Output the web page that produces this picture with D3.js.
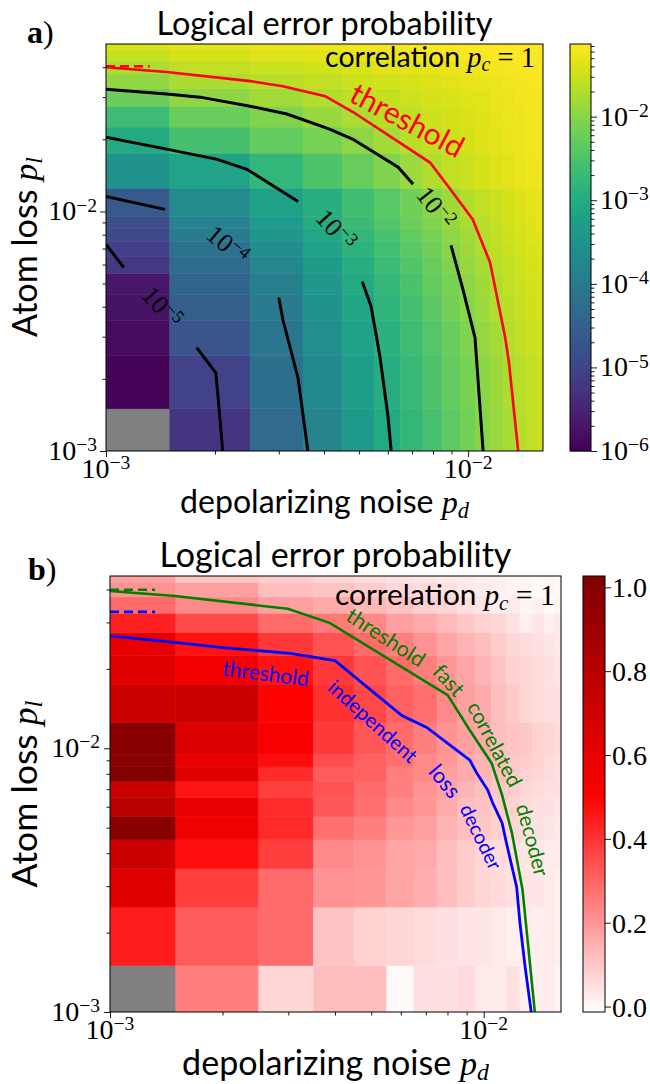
<!DOCTYPE html>
<html>
<head>
<meta charset="utf-8">
<style>
  body { margin: 0; background: #fff; }
  .sans { font-family: Lato, "Open Sans", sans-serif; }
  .serif { font-family: "Liberation Serif", "DejaVu Serif", serif; }
  .tick line { stroke: #000; stroke-width: 0.9px; }
</style>
</head>
<body>
<script src="https://cdn.jsdelivr.net/npm/d3@7"></script>
<script>

  // grid points, in units of 1e-3
  const pd = [1, 2, 3, 4, 5, 6, 7, 8, 9, 10, 11, 12, 13, 14, 15, 16]
  const plA = [1, 2, 3, 4, 5, 6, 7, 8, 9, 10, 15, 20, 25, 30, 35, 40, 45, 50]
  const plB = [1, 2, 3, 4, 5, 6, 7, 8, 9, 10, 15, 20, 25, 30, 35, 40, 45]

  // a) log10 of logical error probability, rows from pl=1 upwards, null = no data
  const logErrA = [
    [null, -5.25, -4.34, -3.81, -3.38, -3.04, -2.77, -2.54, -2.34, -2.16, -2.00, -1.88, -1.77, -1.68, -1.60, -1.53],
    [-5.95, -5.03, -4.23, -3.70, -3.30, -2.97, -2.72, -2.50, -2.30, -2.13, -1.97, -1.85, -1.73, -1.65, -1.57, -1.50],
    [-5.86, -4.74, -4.08, -3.58, -3.20, -2.89, -2.64, -2.43, -2.24, -2.07, -1.92, -1.78, -1.68, -1.60, -1.53, -1.47],
    [-5.76, -4.56, -4.02, -3.52, -3.13, -2.83, -2.58, -2.36, -2.17, -2.00, -1.86, -1.72, -1.63, -1.55, -1.49, -1.43],
    [-5.70, -4.43, -3.91, -3.43, -3.05, -2.76, -2.52, -2.31, -2.12, -1.96, -1.82, -1.69, -1.60, -1.52, -1.46, -1.41],
    [-5.22, -4.31, -3.77, -3.32, -2.97, -2.69, -2.45, -2.24, -2.06, -1.91, -1.77, -1.65, -1.57, -1.50, -1.44, -1.39],
    [-5.07, -4.17, -3.62, -3.20, -2.88, -2.61, -2.38, -2.18, -2.00, -1.85, -1.72, -1.62, -1.54, -1.47, -1.41, -1.36],
    [-4.95, -4.00, -3.47, -3.09, -2.78, -2.52, -2.30, -2.12, -1.95, -1.81, -1.68, -1.59, -1.51, -1.45, -1.39, -1.34],
    [-4.85, -3.84, -3.35, -3.00, -2.69, -2.44, -2.23, -2.05, -1.89, -1.75, -1.64, -1.56, -1.48, -1.42, -1.37, -1.32],
    [-4.65, -3.69, -3.26, -2.93, -2.63, -2.39, -2.18, -2.00, -1.84, -1.70, -1.60, -1.52, -1.45, -1.39, -1.34, -1.30],
    [-3.50, -3.18, -2.79, -2.49, -2.26, -2.07, -1.87, -1.70, -1.60, -1.52, -1.45, -1.39, -1.34, -1.30, -1.26, -1.23],
    [-3.05, -2.56, -2.30, -2.12, -1.96, -1.78, -1.66, -1.58, -1.50, -1.44, -1.39, -1.34, -1.30, -1.27, -1.24, -1.21],
    [-2.65, -2.24, -2.05, -1.88, -1.74, -1.64, -1.57, -1.50, -1.45, -1.40, -1.36, -1.32, -1.28, -1.25, -1.22, -1.20],
    [-2.22, -1.95, -1.81, -1.70, -1.62, -1.55, -1.50, -1.45, -1.41, -1.37, -1.34, -1.30, -1.27, -1.24, -1.21, -1.19],
    [-1.93, -1.75, -1.65, -1.57, -1.51, -1.46, -1.42, -1.38, -1.35, -1.32, -1.29, -1.27, -1.24, -1.22, -1.20, -1.18],
    [-1.75, -1.60, -1.52, -1.46, -1.41, -1.37, -1.34, -1.31, -1.29, -1.26, -1.24, -1.22, -1.20, -1.18, -1.17, -1.15],
    [-1.55, -1.45, -1.39, -1.34, -1.30, -1.27, -1.24, -1.22, -1.20, -1.18, -1.17, -1.16, -1.15, -1.14, -1.13, -1.13],
    [-1.42, -1.33, -1.28, -1.24, -1.21, -1.19, -1.17, -1.16, -1.15, -1.14, -1.14, -1.13, -1.13, -1.13, -1.13, -1.13]
  ]

  // b) logical error probability (linear), rows from pl=1 upwards
  const errB = [
    [null, 0.25, 0.07, 0.12, 0.12, 0.00, 0.05, 0.05, 0.06, 0.03, 0.03, 0.05, 0.02, 0.02, 0.03, 0.01],
    [0.45, 0.32, 0.29, 0.11, 0.08, 0.07, 0.06, 0.05, 0.04, 0.04, 0.03, 0.02, 0.03, 0.02, 0.03, 0.02],
    [0.63, 0.38, 0.29, 0.21, 0.20, 0.17, 0.15, 0.12, 0.09, 0.07, 0.06, 0.05, 0.04, 0.04, 0.03, 0.02],
    [0.71, 0.48, 0.38, 0.23, 0.21, 0.17, 0.16, 0.12, 0.09, 0.07, 0.06, 0.05, 0.04, 0.04, 0.03, 0.03],
    [0.99, 0.57, 0.42, 0.28, 0.25, 0.20, 0.18, 0.14, 0.12, 0.10, 0.08, 0.07, 0.05, 0.05, 0.04, 0.03],
    [0.80, 0.60, 0.42, 0.33, 0.28, 0.23, 0.20, 0.16, 0.12, 0.11, 0.09, 0.08, 0.06, 0.05, 0.05, 0.04],
    [0.73, 0.47, 0.38, 0.34, 0.29, 0.25, 0.21, 0.18, 0.14, 0.12, 0.10, 0.09, 0.07, 0.06, 0.05, 0.05],
    [1.02, 0.63, 0.42, 0.32, 0.31, 0.25, 0.23, 0.18, 0.16, 0.14, 0.12, 0.10, 0.08, 0.07, 0.06, 0.05],
    [0.98, 0.60, 0.48, 0.35, 0.31, 0.28, 0.23, 0.20, 0.16, 0.14, 0.12, 0.10, 0.09, 0.08, 0.06, 0.05],
    [1.00, 0.65, 0.53, 0.39, 0.33, 0.29, 0.25, 0.21, 0.18, 0.16, 0.12, 0.11, 0.10, 0.08, 0.07, 0.06],
    [0.71, 0.71, 0.50, 0.41, 0.36, 0.31, 0.28, 0.23, 0.18, 0.16, 0.12, 0.10, 0.07, 0.06, 0.05, 0.05],
    [0.63, 0.56, 0.47, 0.39, 0.34, 0.29, 0.25, 0.20, 0.17, 0.14, 0.11, 0.08, 0.07, 0.06, 0.05, 0.04],
    [0.60, 0.47, 0.39, 0.34, 0.29, 0.25, 0.21, 0.17, 0.14, 0.12, 0.09, 0.07, 0.06, 0.05, 0.04, 0.03],
    [0.44, 0.36, 0.29, 0.26, 0.23, 0.18, 0.16, 0.13, 0.10, 0.08, 0.07, 0.05, 0.02, 0.04, 0.02, 0.03],
    [0.29, 0.23, 0.18, 0.16, 0.13, 0.11, 0.08, 0.07, 0.05, 0.04, 0.02, 0.03, 0.01, 0.02, 0.00, 0.01],
    [0.21, 0.18, 0.12, 0.11, 0.09, 0.07, 0.06, 0.05, 0.03, 0.03, 0.02, 0.01, 0.01, 0.00, 0.01, 0.00],
    [0.18, 0.11, 0.09, 0.07, 0.06, 0.05, 0.04, 0.03, 0.03, 0.02, 0.02, 0.01, 0.01, 0.00, 0.01, 0.00]
  ]

  // contour lines of a), [pd, pl] in 1e-3, split where the inline label sits
  const contour2 = [[[1.0, 32.4], [1.47, 30.9], [1.82, 30.0], [2.5, 27.5], [3.16, 25.5], [4.16, 22.0], [4.81, 20.0], [6.41, 15.3], [7.05, 13.0]],
                    [[8.97, 7.21], [9.68, 4.72], [10.45, 2.97], [11.0, 1.0]]]
  const contour3 = [[[1.0, 20.4], [1.47, 18.2], [2.03, 16.5], [2.45, 15.0], [3.39, 11.0]],
                    [[5.10, 5.10], [5.40, 4.0], [5.71, 2.47], [6.01, 1.39], [6.13, 1.0]]]
  const contour4 = [[[1.0, 11.55], [1.455, 10.2]],
                    [[3.0, 4.37], [3.08, 3.53], [3.39, 2.02], [3.61, 1.0]]]
  const contour5 = [[[1.0, 7.28], [1.12, 5.83]],
                    [[1.78, 2.70], [2.01, 2.12], [2.04, 1.68], [2.10, 1.0]]]
  const contourLabels = [
    {exp: 2, pd: 8.16, pl: 10.4, angle: 52},
    {exp: 3, pd: 4.32, pl: 8.41, angle: 48},
    {exp: 4, pd: 2.17, pl: 7.28, angle: 40},
    {exp: 5, pd: 1.43, pl: 4.0, angle: 48}
  ]

  // thresholds
  const thresholdA = [[1.0, 40.0], [1.47, 38.2], [2.5, 35.0], [3.08, 33.3], [4.03, 30.3], [4.81, 26.0], [7.85, 16.0],
                      [8.92, 12.4], [10.3, 9.26], [11.5, 6.12], [12.65, 3.0], [12.97, 2.33], [13.75, 1.0]]
  const thresholdA0 = [[1.0, 40.4], [1.32, 40.4]]
  const thresholdFast = [[1.0, 39.5], [1.49, 37.8], [2.99, 33.8], [3.87, 29.9], [8.01, 15.9], [9.18, 11.7], [10.5, 8.78],
                         [11.2, 6.64], [11.9, 4.77], [12.7, 2.91], [13.1, 1.88], [13.7, 1.0]]
  const thresholdFast0 = [[1.0, 39.9], [1.32, 39.9]]
  const thresholdIndep = [[1.0, 26.7], [1.49, 25.2], [2.0, 24.1], [3.03, 22.9], [4.0, 21.5], [6.04, 13.3], [7.04, 12.0],
                          [9.18, 9.01], [9.58, 8.05], [10.25, 6.94], [10.57, 6.2], [11.2, 5.21], [11.5, 4.38],
                          [12.25, 2.98], [12.5, 2.18], [12.9, 1.49], [13.4, 1.0]]
  const thresholdIndep0 = [[1.0, 32.9], [1.32, 32.9]]

  const colorbarTicksB = [0.0, 0.2, 0.4, 0.6, 0.8, 1.0]
  const colorbarExpA = [2, 3, 4, 5, 6]

  const tickFont = 28

  const svg = d3.select('body').append('svg')
      .attr('width', 650)
      .attr('height', 1084)

  // ---------- scales ----------
  const xA = d3.scaleLog().domain([1, 16.1]).range([106, 543])
  const yA = d3.scaleLog().domain([1, 50]).range([451, 44])
  const xB = d3.scaleLog().domain([1, 16.1]).range([110, 561])
  const yB = d3.scaleLog().domain([1, 45]).range([1012, 576])

  const colorA = d3.scaleSequentialLog(d3.interpolateViridis).domain([1e-6, 0.074])
  const cbA = d3.scaleLog().domain([1e-6, 0.074]).range([451, 44])
  const colorB = d3.scaleLinear().domain([-0.013, 0.507, 1.027]).range(['#ffffff', '#ff0000', '#800000'])
  const cbB = d3.scaleLinear().domain([-0.013, 1.027]).range([1012, 576])

  function cellEdges(vals, lo, hi) {
    const e = [lo]
    for (let i = 1; i < vals.length; i++) e.push((vals[i-1] + vals[i]) / 2)
    e.push(hi)
    return e
  }

  function drawHeat(g, x, y, grid, ys, fill) {
    const xe = cellEdges(pd, ...x.domain())
    const ye = cellEdges(ys, ...y.domain())
    const cells = []
    grid.forEach((row, i) => row.forEach((v, j) => cells.push({i, j, v})))
    g.selectAll('rect.cell')
      .data(cells)
      .join('rect')
        .attr('class', 'cell')
        .attr('x', d => x(xe[d.j]))
        .attr('y', d => y(ye[d.i+1]))
        .attr('width', d => x(xe[d.j+1]) - x(xe[d.j]))
        .attr('height', d => y(ye[d.i]) - y(ye[d.i+1]))
        .style('fill', d => d.v == null ? '#808080' : fill(d.v))
        .style('stroke', d => d.v == null ? '#808080' : fill(d.v))
        .style('stroke-width', 0.5)
  }

  function fit(t, len) {
    const fs = parseFloat(t.style('font-size'))
    const w = t.node().getComputedTextLength()
    t.style('font-size', (fs * len / w) + 'px')
    return t
  }

  function powLabel(g, x, y, exp, anchor, size) {
    const t = g.append('text')
        .attr('class', 'serif')
        .attr('x', x)
        .attr('y', y)
        .attr('text-anchor', anchor)
        .style('font-size', size + 'px')
    t.append('tspan').text('10')
    t.append('tspan').attr('dy', '-0.45em').style('font-size', '0.7em').text('\u2212' + exp)
    return t
  }

  function mathText(t, sym, sub) {
    t.append('tspan').attr('class', 'serif').style('font-style', 'italic').text(sym)
    t.append('tspan').attr('class', 'serif').style('font-style', 'italic')
      .style('font-size', '0.7em').attr('dy', '0.22em').text(sub)
  }

  function drawAxes(x, y, axisGap) {
    const [x0, x1] = x.range(), [y1, y0] = y.range()
    const g = svg.append('g')

    // ticks
    const minorX = [2, 3, 4, 5, 6, 7, 8, 9]
    const minorY = [2, 3, 4, 5, 6, 7, 8, 9, 20, 30, 40]
    g.append('g').attr('transform', `translate(0, ${y1})`)
      .call(d3.axisBottom(x).tickValues(minorX).tickSize(3.5).tickFormat(''))
    g.append('g').attr('transform', `translate(0, ${y1})`)
      .call(d3.axisBottom(x).tickValues([1, 10]).tickSize(6).tickFormat(''))
    g.append('g').attr('transform', `translate(${x0}, 0)`)
      .call(d3.axisLeft(y).tickValues(minorY).tickSize(3.5).tickFormat(''))
    g.append('g').attr('transform', `translate(${x0}, 0)`)
      .call(d3.axisLeft(y).tickValues([1, 10]).tickSize(6).tickFormat(''))
    g.selectAll('.domain').remove()

    g.append('rect')
        .attr('x', x0).attr('y', y0)
        .attr('width', x1 - x0).attr('height', y1 - y0)
        .style('fill', 'none').style('stroke', '#000').style('stroke-width', 1)

    // tick labels
    powLabel(g, x(1), y1 + 27, 3, 'middle', tickFont)
    powLabel(g, x(10), y1 + 27, 2, 'middle', tickFont)
    powLabel(g, x0 - axisGap, y(1) + 9, 3, 'end', tickFont)
    powLabel(g, x0 - axisGap, y(10) + 9, 2, 'end', tickFont)
    return g
  }

  // ================= panel a =================
  const gA = svg.append('g')
  svg.append('clipPath').attr('id', 'clipA').append('rect')
      .attr('x', 106).attr('y', 44).attr('width', 437).attr('height', 407)
  const plotA = gA.append('g').attr('clip-path', 'url(#clipA)')
  drawHeat(plotA, xA, yA, logErrA, plA, v => colorA(Math.pow(10, v)))

  const lineA = d3.line().x(d => xA(d[0])).y(d => yA(d[1]))
  ;[contour2, contour3, contour4, contour5].forEach(c => c.forEach(seg => {
    plotA.append('path').attr('d', lineA(seg))
      .style('fill', 'none').style('stroke', '#000').style('stroke-width', 3)
  }))
  plotA.append('path').attr('d', lineA(thresholdA))
      .style('fill', 'none').style('stroke', '#ff0000').style('stroke-width', 2.6)
  plotA.append('path').attr('d', lineA(thresholdA0))
      .style('fill', 'none').style('stroke', '#ff0000').style('stroke-width', 2.6)
      .style('stroke-dasharray', '9,5')

  contourLabels.forEach(d => {
    const t = powLabel(plotA, 0, 0, d.exp, 'middle', 26)
    t.attr('x', null).attr('y', null)
      .attr('dy', '0.35em')
      .attr('transform', `translate(${xA(d.pd)}, ${yA(d.pl)}) rotate(${d.angle})`)
  })

  const thrA = gA.append('text').attr('class', 'sans')
      .attr('text-anchor', 'middle').attr('dy', '0.35em')
      .attr('transform', `translate(${xA(6.79)}, ${yA(24.0)}) rotate(28)`)
      .style('font-size', '24px').style('fill', '#ff0000')
      .text('threshold')
  fit(thrA, 124)

  drawAxes(xA, yA, 9)

  // colorbar a
  const cbgA = svg.append('g')
  const stripsA = d3.range(451, 44, -1)
  cbgA.selectAll('rect').data(stripsA).join('rect')
      .attr('x', 570).attr('y', d => d - 1).attr('width', 21).attr('height', 1.4)
      .style('fill', d => colorA(cbA.invert(d - 0.5)))
  const minorCbA = []
  for (let e = -6; e <= -2; e++) for (let k = 2; k <= 9; k++) if (k * Math.pow(10, e) < 0.074) minorCbA.push(k * Math.pow(10, e))
  cbgA.append('g').attr('transform', 'translate(591, 0)')
      .call(d3.axisRight(cbA).tickValues(minorCbA).tickSize(3.5).tickFormat(''))
  cbgA.append('g').attr('transform', 'translate(591, 0)')
      .call(d3.axisRight(cbA).tickValues(colorbarExpA.map(e => Math.pow(10, -e))).tickSize(6).tickFormat(''))
  cbgA.selectAll('.domain').remove()
  cbgA.append('rect').attr('x', 570).attr('y', 44).attr('width', 21).attr('height', 407)
      .style('fill', 'none').style('stroke', '#000').style('stroke-width', 1)
  colorbarExpA.forEach(e => powLabel(cbgA, 600, cbA(Math.pow(10, -e)) + 9, e, 'start', tickFont))

  // texts a
  const titleA = svg.append('text').attr('class', 'sans')
      .attr('x', 324.5).attr('y', 35).attr('text-anchor', 'middle')
      .style('font-size', '30px').text('Logical error probability')
  fit(titleA, 336)

  const tagA = svg.append('text').attr('class', 'serif').attr('x', 27).attr('y', 43).style('font-size', '32px')
  tagA.append('tspan').style('font-weight', 'bold').text('a')
  tagA.append('tspan').text(')')

  const corrA = svg.append('text').attr('class', 'sans')
      .attr('x', 535).attr('y', 67).attr('text-anchor', 'end').style('font-size', '24px')
  corrA.append('tspan').text('correlation ')
  mathText(corrA, 'p', 'c')
  corrA.append('tspan').attr('class', 'serif').attr('dy', '-0.154em').text(' = 1')
  fit(corrA, 210)

  const ylabA = svg.append('text').attr('class', 'sans')
      .attr('text-anchor', 'middle').attr('transform', 'translate(37, 247) rotate(-90)')
      .style('font-size', '32px')
  ylabA.append('tspan').text('Atom loss ')
  mathText(ylabA, 'p', 'l')
  fit(ylabA, 180)

  const xlabA = svg.append('text').attr('class', 'sans')
      .attr('x', 324.5).attr('y', 513).attr('text-anchor', 'middle')
      .style('font-size', '30px')
  xlabA.append('tspan').text('depolarizing noise ')
  mathText(xlabA, 'p', 'd')
  fit(xlabA, 289)

  // ================= panel b =================
  const gB = svg.append('g')
  svg.append('clipPath').attr('id', 'clipB').append('rect')
      .attr('x', 110).attr('y', 576).attr('width', 451).attr('height', 436)
  const plotB = gB.append('g').attr('clip-path', 'url(#clipB)')
  drawHeat(plotB, xB, yB, errB, plB, colorB)

  const lineB = d3.line().x(d => xB(d[0])).y(d => yB(d[1]))
  plotB.append('path').attr('d', lineB(thresholdFast))
      .style('fill', 'none').style('stroke', '#008000').style('stroke-width', 2.6)
  plotB.append('path').attr('d', lineB(thresholdIndep))
      .style('fill', 'none').style('stroke', '#0000ff').style('stroke-width', 2.8)
  plotB.append('path').attr('d', lineB(thresholdFast0))
      .style('fill', 'none').style('stroke', '#008000').style('stroke-width', 2.6).style('stroke-dasharray', '9,5')
  plotB.append('path').attr('d', lineB(thresholdIndep0))
      .style('fill', 'none').style('stroke', '#0000ff').style('stroke-width', 2.8).style('stroke-dasharray', '9,5')

  const wordsB = [
    {text: 'threshold', pd: 2.61, pl: 19.2, angle: 7, len: 87, color: '#0000ff'},
    {text: 'independent', pd: 5.05, pl: 12.65, angle: 42, len: 112, color: '#0000ff'},
    {text: 'loss', pd: 7.87, pl: 7.5, angle: 50, len: 36, color: '#0000ff'},
    {text: 'decoder', pd: 9.82, pl: 4.61, angle: 64, len: 70, color: '#0000ff'},
    {text: 'threshold', pd: 5.47, pl: 26.3, angle: 33, len: 89, color: '#008000'},
    {text: 'fast', pd: 8.06, pl: 18.1, angle: 47, len: 35, color: '#008000'},
    {text: 'correlated', pd: 10.7, pl: 10.35, angle: 62, len: 93, color: '#008000'},
    {text: 'decoder', pd: 13.5, pl: 4.49, angle: 75, len: 74, color: '#008000'}
  ]
  wordsB.forEach(w => {
    const t = gB.append('text').attr('class', 'sans')
        .attr('text-anchor', 'middle').attr('dy', '0.35em')
        .attr('transform', `translate(${xB(w.pd)}, ${yB(w.pl)}) rotate(${w.angle})`)
        .style('font-size', '20px').style('fill', w.color)
        .text(w.text)
    fit(t, w.len)
  })

  drawAxes(xB, yB, 10)

  // colorbar b
  const cbgB = svg.append('g')
  const stripsB = d3.range(1012, 576, -1)
  cbgB.selectAll('rect').data(stripsB).join('rect')
      .attr('x', 583).attr('y', d => d - 1).attr('width', 22).attr('height', 1.4)
      .style('fill', d => colorB(cbB.invert(d - 0.5)))
  cbgB.append('g').attr('transform', 'translate(605, 0)')
      .call(d3.axisRight(cbB).tickValues(colorbarTicksB).tickSize(6).tickFormat(''))
  cbgB.selectAll('.domain').remove()
  cbgB.append('rect').attr('x', 583).attr('y', 576).attr('width', 22).attr('height', 436)
      .style('fill', 'none').style('stroke', '#000').style('stroke-width', 1)
  colorbarTicksB.forEach(v => {
    cbgB.append('text').attr('class', 'serif')
        .attr('x', 612).attr('y', cbB(v) + 10)
        .style('font-size', tickFont + 'px')
        .text(d3.format('.1f')(v))
  })

  const titleB = svg.append('text').attr('class', 'sans')
      .attr('x', 335.5).attr('y', 567).attr('text-anchor', 'middle')
      .style('font-size', '30px').text('Logical error probability')
  fit(titleB, 352)

  const tagB = svg.append('text').attr('class', 'serif').attr('x', 28).attr('y', 580).style('font-size', '32px')
  tagB.append('tspan').style('font-weight', 'bold').text('b')
  tagB.append('tspan').text(')')

  const corrB = svg.append('text').attr('class', 'sans')
      .attr('x', 555).attr('y', 605).attr('text-anchor', 'end').style('font-size', '24px')
  corrB.append('tspan').text('correlation ')
  mathText(corrB, 'p', 'c')
  corrB.append('tspan').attr('class', 'serif').attr('dy', '-0.154em').text(' = 1')
  fit(corrB, 220)

  const ylabB = svg.append('text').attr('class', 'sans')
      .attr('text-anchor', 'middle').attr('transform', 'translate(37, 794) rotate(-90)')
      .style('font-size', '32px')
  ylabB.append('tspan').text('Atom loss ')
  mathText(ylabB, 'p', 'l')
  fit(ylabB, 187)

  const xlabB = svg.append('text').attr('class', 'sans')
      .attr('x', 335.5).attr('y', 1075).attr('text-anchor', 'middle')
      .style('font-size', '30px')
  xlabB.append('tspan').text('depolarizing noise ')
  mathText(xlabB, 'p', 'd')
  fit(xlabB, 307)

</script>
</body>
</html>
